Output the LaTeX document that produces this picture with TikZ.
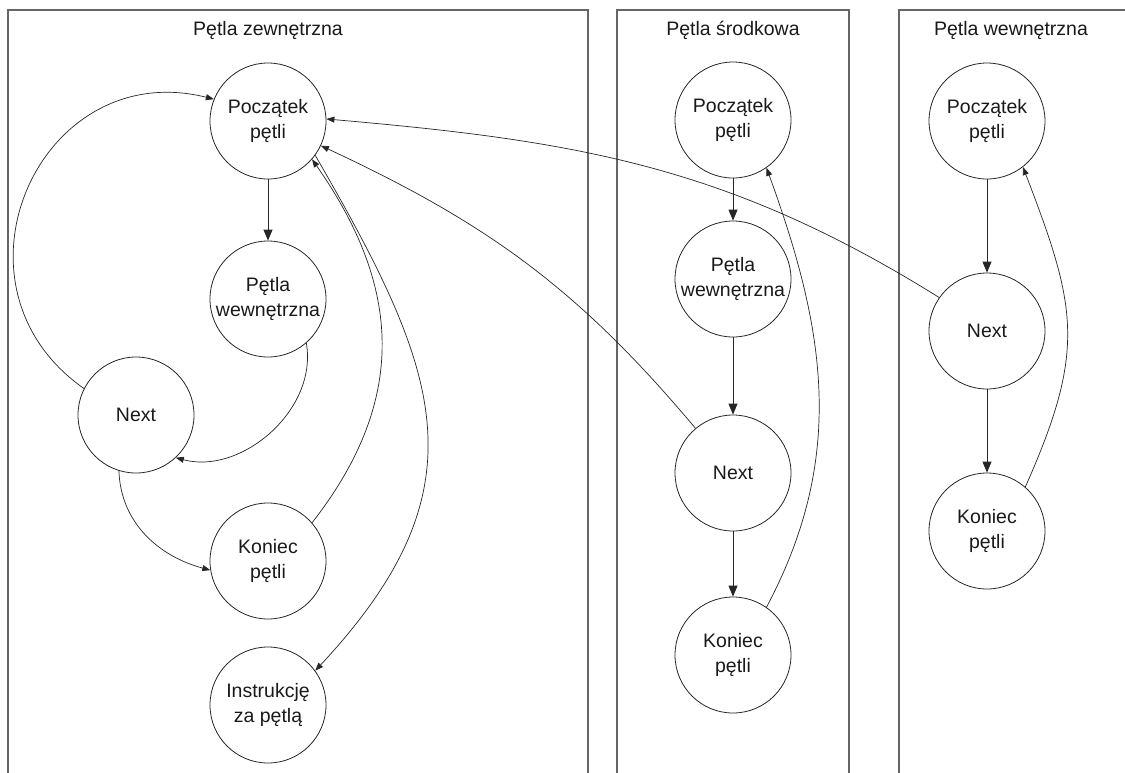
\documentclass[tikz,border=0pt]{standalone}
\usepackage{fontspec}
\setmainfont{Liberation Sans}
\usetikzlibrary{arrows.meta}
\begin{document}
\begin{tikzpicture}[x=1pt,y=1pt,
  state/.style={circle,draw=black!85,line width=0.8pt,minimum size=116pt,inner sep=0pt,align=center,font=\fontsize{19.5}{25}\selectfont,text=black!90},
  frame/.style={draw=black!60,line width=1.3pt},
  title/.style={font=\fontsize{19.5}{25}\selectfont,text=black!90},
  vflow/.style={line width=0.9pt,draw=black!85,-{Triangle[length=11pt,width=9pt]}},
  cflow/.style={line width=0.7pt,draw=black!85,-{Triangle[length=8pt,width=6pt]}}]
\useasboundingbox (0,0) rectangle (1125,-772);
% frames
\draw[frame] (8,-800) -- (8,-10) -- (588,-10) -- (588,-800);
\draw[frame] (617,-800) -- (617,-10) -- (849,-10) -- (849,-800);
\draw[frame] (899,-800) -- (899,-10) -- (1140,-10);
% titles
\node[title] (t1) at (268,-30) {Pętla zewnętrzna};
\node[title] (t2) at (733,-30) {Pętla środkowa};
\node[title] (t3) at (1011,-30) {Pętla wewnętrzna};
% outer loop
\node[state] (P1) at (268,-121) {Początek\\pętli};
\node[state] (W1) at (268,-299) {Pętla\\wewnętrzna};
\node[state] (N1) at (136,-415) {Next};
\node[state] (K1) at (268,-561) {Koniec\\pętli};
\node[state] (I1) at (268,-705) {Instrukcję\\za pętlą};
% middle loop
\node[state] (P2) at (733,-120) {Początek\\pętli};
\node[state] (W2) at (733,-279) {Pętla\\wewnętrzna};
\node[state] (N2) at (733,-473) {Next};
\node[state] (K2) at (733,-655) {Koniec\\pętli};
% inner loop
\node[state] (P3) at (987,-121) {Początek\\pętli};
\node[state] (N3) at (987,-331) {Next};
\node[state] (K3) at (987,-531) {Koniec\\pętli};
% outer edges
\draw[vflow] (P1.south) -- (W1.north);
\draw[cflow] (W1.-49) to[out=-80,in=-15] (N1.-47);
\draw[cflow] (N1.-107) to[out=-88,in=165] (K1.189);
\draw[cflow] (N1.153) to[out=145,in=166,looseness=1.45] (P1.158);
\draw[cflow] (K1.41) to[out=52,in=-55,looseness=1.1] (P1.-41);
\draw[cflow] (P1.-36) to[out=-60,in=47,looseness=1.25] (I1.36);
\draw[cflow] (N2.130) to[out=130,in=-25] (P1.-25);
\draw[cflow] (N3.145) to[out=148,in=-5] (P1.2);
% middle edges
\draw[vflow] (P2.south) -- (W2.north);
\draw[vflow] (W2.south) -- (N2.north);
\draw[vflow] (N2.south) -- (K2.north);
\draw[cflow] (K2.55) to[out=62,in=-70] (P2.-55);
% inner edges
\draw[vflow] (P3.south) -- (N3.north);
\draw[vflow] (N3.south) -- (K3.north);
\draw[cflow] (K3.49) to[out=66,in=-69,looseness=1.2] (P3.-52);
\end{tikzpicture}
\end{document}
